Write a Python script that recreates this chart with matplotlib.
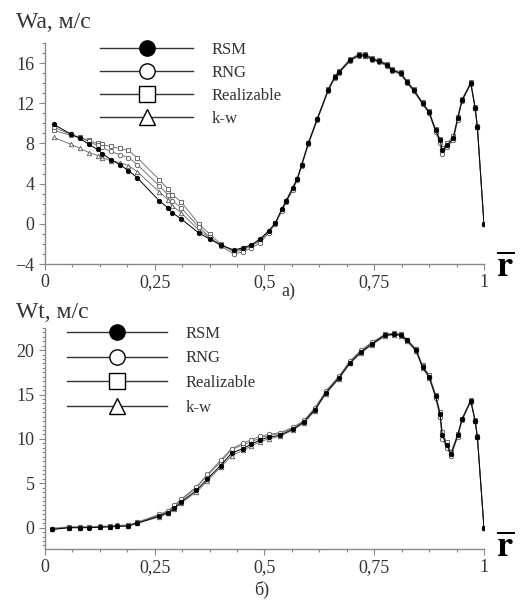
import matplotlib
matplotlib.use("Agg")
import matplotlib.pyplot as plt
from matplotlib.lines import Line2D
from matplotlib.ticker import MultipleLocator, FuncFormatter

plt.rcParams['font.family'] = ['Liberation Serif', 'DejaVu Serif']
plt.rcParams['mathtext.fontset'] = 'stix'

models = ['RSM', 'RNG', 'Realizable', 'k-w']

# axial velocity Wa
xa = [0.02, 0.06, 0.08, 0.10, 0.12, 0.13, 0.15, 0.17, 0.19, 0.21,
      0.26, 0.28, 0.29, 0.31, 0.35, 0.375, 0.40, 0.43, 0.45, 0.47,
      0.49, 0.51, 0.525, 0.54, 0.55, 0.565, 0.575, 0.585, 0.60, 0.62,
      0.645, 0.66, 0.67, 0.695, 0.715, 0.73, 0.745, 0.76, 0.78, 0.79,
      0.81, 0.825, 0.84, 0.86, 0.875, 0.89, 0.90, 0.905, 0.915, 0.93,
      0.94, 0.95, 0.97, 0.98, 0.985, 1.0]
wa_rsm = [9.9, 8.9, 8.5, 7.9, 7.4, 7.0, 6.4, 5.9, 5.3, 4.6,
          2.3, 1.6, 1.1, 0.5, -0.9, -1.5, -2.1, -2.6, -2.4, -2.1,
          -1.5, -0.7, 0.1, 1.5, 2.3, 3.6, 4.5, 5.9, 8.0, 10.4,
          13.3, 14.6, 15.1, 16.3, 16.8, 16.8, 16.4, 16.2, 15.8, 15.3,
          15.0, 14.1, 13.3, 12.0, 11.1, 9.3, 8.3, 7.3, 7.8, 8.5,
          10.5, 12.3, 14.0, 11.5, 9.6, 0.0]
wa_rng = [9.6, 8.9, 8.6, 8.2, 7.8, 7.6, 7.2, 6.9, 6.6, 5.9,
          3.8, 2.9, 2.3, 1.6, -0.3, -1.3, -2.2, -3.0, -2.8, -2.4,
          -1.9, -0.9, 0.0, 1.3, 2.2, 3.4, 4.4, 5.8, 7.9, 10.3,
          13.2, 14.5, 15.0, 16.2, 16.7, 16.7, 16.3, 16.1, 15.7, 15.2,
          14.9, 14.0, 13.2, 11.9, 11.0, 9.1, 8.0, 7.0, 7.6, 8.3,
          10.3, 12.2, 13.9, 11.5, 9.6, 0.0]
wa_real = [9.3, 8.8, 8.6, 8.3, 8.0, 7.9, 7.7, 7.5, 7.3, 6.6,
           4.4, 3.5, 2.9, 2.2, 0.0, -1.0, -2.0, -2.8, -2.6, -2.2,
           -1.7, -0.8, 0.1, 1.4, 2.3, 3.5, 4.5, 5.9, 8.0, 10.4,
           13.4, 14.7, 15.2, 16.4, 16.9, 16.9, 16.5, 16.3, 15.9, 15.4,
           15.1, 14.2, 13.4, 12.1, 11.2, 9.4, 8.4, 7.5, 8.0, 8.7,
           10.6, 12.4, 14.1, 11.6, 9.7, 0.0]
wa_kw = [8.6, 7.9, 7.5, 7.1, 6.8, 6.6, 6.3, 6.1, 5.8, 5.2,
         3.2, 2.4, 1.8, 1.1, -0.6, -1.4, -2.1, -2.7, -2.5, -2.2,
         -1.6, -0.7, 0.1, 1.5, 2.4, 3.7, 4.6, 6.0, 8.1, 10.5,
         13.3, 14.6, 15.1, 16.3, 16.8, 16.7, 16.4, 16.2, 15.8, 15.3,
         15.0, 14.1, 13.3, 12.0, 11.1, 9.2, 8.2, 7.2, 7.7, 8.4,
         10.4, 12.3, 14.0, 11.5, 9.6, 0.0]

# tangential velocity Wt
xt = [0.015, 0.055, 0.08, 0.10, 0.125, 0.148, 0.165, 0.19, 0.21, 0.26,
      0.28, 0.295, 0.31, 0.345, 0.37, 0.40, 0.425, 0.45, 0.47, 0.49,
      0.51, 0.535, 0.565, 0.59, 0.615, 0.64, 0.67, 0.695, 0.72, 0.745,
      0.775, 0.795, 0.81, 0.825, 0.845, 0.86, 0.875, 0.89, 0.90, 0.905,
      0.915, 0.925, 0.94, 0.95, 0.97, 0.98, 0.985, 1.0]
wt_rsm = [-0.2, 0.0, 0.0, 0.0, 0.05, 0.1, 0.15, 0.2, 0.5, 1.3,
          1.7, 2.2, 2.9, 4.2, 5.5, 7.0, 8.4, 8.9, 9.4, 9.9,
          10.2, 10.4, 11.1, 11.9, 13.3, 15.2, 16.9, 18.6, 19.8, 20.7,
          21.7, 21.8, 21.7, 21.1, 20.0, 18.1, 17.0, 14.8, 12.8, 10.4,
          9.3, 8.3, 10.4, 12.2, 14.3, 12.0, 10.2, 0.0]
wt_rng = [-0.1, 0.1, 0.1, 0.1, 0.15, 0.2, 0.25, 0.3, 0.6, 1.5,
          1.9, 2.5, 3.2, 4.6, 6.0, 7.6, 8.9, 9.5, 9.9, 10.3,
          10.5, 10.7, 11.3, 12.1, 13.5, 15.4, 17.1, 18.8, 20.0, 20.9,
          21.8, 21.9, 21.8, 21.2, 20.1, 18.2, 17.0, 14.6, 12.5, 10.0,
          9.0, 8.1, 10.2, 12.1, 14.2, 12.0, 10.2, 0.0]
wt_real = [-0.1, 0.05, 0.05, 0.05, 0.1, 0.15, 0.2, 0.25, 0.6, 1.4,
           1.8, 2.4, 3.1, 4.5, 5.9, 7.4, 8.8, 9.3, 9.7, 10.1,
           10.4, 10.6, 11.2, 12.0, 13.4, 15.3, 17.0, 18.7, 19.9, 20.8,
           21.8, 21.9, 21.8, 21.2, 20.1, 18.3, 17.2, 15.0, 13.0, 10.8,
           9.6, 8.5, 10.5, 12.3, 14.4, 12.1, 10.3, 0.0]
wt_kw = [-0.2, 0.0, 0.0, 0.05, 0.1, 0.1, 0.15, 0.2, 0.5, 1.2,
         1.6, 2.1, 2.8, 4.0, 5.3, 6.8, 8.1, 8.7, 9.2, 9.7,
         10.0, 10.3, 11.0, 11.8, 13.2, 15.1, 16.8, 18.5, 19.7, 20.6,
         21.6, 21.7, 21.6, 21.0, 19.9, 18.0, 16.9, 14.7, 12.6, 10.2,
         9.1, 8.2, 10.3, 12.2, 14.3, 12.0, 10.2, 0.0]

styles = [dict(marker='o', mfc='black', mec='black', color='black'),
          dict(marker='o', mfc='white', mec='#555555', color='#777777'),
          dict(marker='s', mfc='white', mec='#555555', color='#777777'),
          dict(marker='^', mfc='white', mec='#555555', color='#777777')]


def comma(v, pos):
    s = '%g' % v
    return s.replace('.', ',')


def setup(ax, ylim, ymajor, yminor):
    ax.set_xlim(0, 1)
    ax.set_ylim(*ylim)
    for s in ['top', 'right']:
        ax.spines[s].set_visible(False)
    for s in ['left', 'bottom']:
        ax.spines[s].set_color('#888888')
        ax.spines[s].set_linewidth(1.0)
    ax.xaxis.set_major_locator(MultipleLocator(0.25))
    ax.xaxis.set_minor_locator(MultipleLocator(0.0625))
    ax.xaxis.set_major_formatter(FuncFormatter(comma))
    ax.yaxis.set_major_locator(MultipleLocator(ymajor))
    ax.yaxis.set_minor_locator(MultipleLocator(yminor))
    ax.tick_params(which='both', direction='out', colors='#888888',
                   labelcolor='#333333', labelsize=13, width=0.8)
    ax.tick_params(which='major', length=4)
    ax.tick_params(which='minor', length=2)


def legend(ax, anchor, hl, sp):
    handles = [Line2D([], [], lw=1.0, markersize=11, **dict(st, color='#333333', mec='black'))
               for st in styles]
    ax.legend(handles, models, loc='upper left', bbox_to_anchor=anchor,
              frameon=False, handlelength=hl, handletextpad=1.1,
              labelspacing=sp, borderpad=0, borderaxespad=0,
              fontsize=12, labelcolor='#333333')


fig = plt.figure(figsize=(5.28, 6.04), dpi=100)

ax1 = fig.add_axes([0.0852, 0.5629, 0.8314, 0.3659])
for y, st in zip([wa_kw, wa_real, wa_rng, wa_rsm], styles[::-1]):
    ax1.plot(xa, y, lw=0.7, markersize=3.2, mew=0.6, **st)
setup(ax1, (-4, 18), 4, 1)
legend(ax1, (0.125, 1.005), 5.6, 0.42)

ax2 = fig.add_axes([0.0852, 0.0911, 0.8314, 0.3659])
for y, st in zip([wt_kw, wt_real, wt_rng, wt_rsm], styles[::-1]):
    ax2.plot(xt, y, lw=0.7, markersize=3.2, mew=0.6, **st)
setup(ax2, (-2.4, 22.5), 5, 0.5)
legend(ax2, (0.05, 1.01), 6.0, 0.52)

fig.text(0.03, 0.963, 'Wa, м/с', fontsize=17, color='#333333', va='center')
fig.text(0.03, 0.483, 'Wt, м/с', fontsize=17, color='#333333', va='center')
fig.text(0.547, 0.517, 'а)', fontsize=13, color='#333333', ha='center', va='center')
fig.text(0.496, 0.024, 'б)', fontsize=13, color='#333333', ha='center', va='center')
fig.text(0.957, 0.556, r'$\overline{\mathbf{r}}$', fontsize=26, ha='center', va='center')
fig.text(0.957, 0.093, r'$\overline{\mathbf{r}}$', fontsize=26, ha='center', va='center')

fig.savefig('out.png', dpi=100)
